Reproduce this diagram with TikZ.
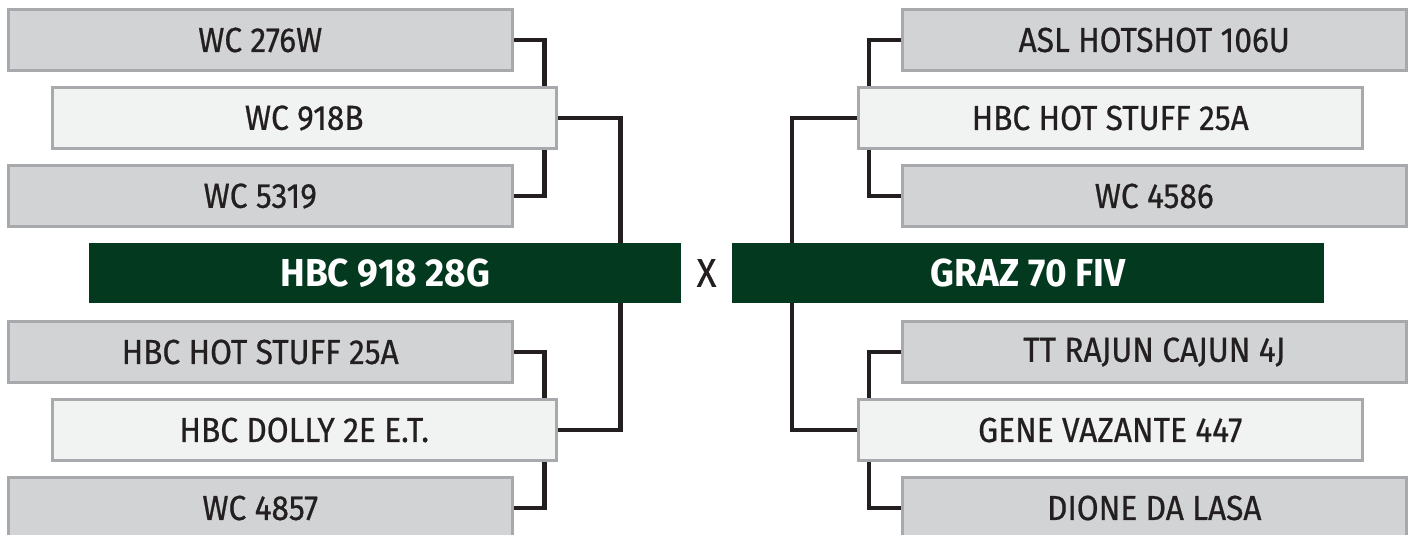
\documentclass[tikz,border=0pt]{standalone}
\usepackage{fontspec}
\setmainfont{Fira Sans}
\newfontfamily\namefont{Fira Sans}[FakeStretch=0.91,FakeBold=0.6]
\newfontfamily\headfont{Fira Sans}[FakeStretch=0.95]
\usetikzlibrary{backgrounds}
\definecolor{boxgray}{HTML}{D1D3D4}
\definecolor{boxlight}{HTML}{F1F2F2}
\definecolor{edgegray}{HTML}{A7A9AC}
\definecolor{headgreen}{HTML}{033A1F}
\definecolor{ink}{HTML}{231F20}
\tikzset{
  sire/.style={draw=edgegray, line width=2.5pt, fill=boxgray, text=ink,
    minimum width=504pt, minimum height=61pt, inner sep=0pt, anchor=west,
    font=\namefont\fontsize{34.8}{40}\selectfont},
  dam/.style={sire, fill=boxlight},
  champ/.style={fill=headgreen, text=white, minimum width=592pt,
    minimum height=60pt, inner sep=0pt, anchor=west,
    font=\headfont\bfseries\fontsize{39}{44}\selectfont},
  link/.style={draw=ink, line width=4.5pt}
}

\begin{document}
\begin{tikzpicture}[x=1pt,y=-1pt]
\useasboundingbox (0,0) rectangle (1410,535);

% left pedigree
\node[sire] (wc276w) at (7,40) {WC 276W};
\node[dam] (wc918b) at (51,118) {WC 918B};
\node[sire] (wc5319) at (7,196) {WC 5319};
\node[champ] (hbc918) at (89,273) {HBC 918 28G};
\node[sire] (hotstuffl) at (7,352) {HBC HOT STUFF 25A};
\node[dam] (dolly) at (51,430) {HBC DOLLY 2E E.T.};
\node[sire] (wc4857) at (7,508) {WC 4857};

\node[text=ink, font=\namefont\fontsize{40}{44}\selectfont] (cross) at (706.5,273) {X};

% right pedigree
\node[sire] (asl) at (901,40) {ASL HOTSHOT 106U};
\node[dam] (hotstuffr) at (857,118) {HBC HOT STUFF 25A};
\node[sire] (wc4586) at (901,196) {WC 4586};
\node[champ] (graz) at (732,273) {GRAZ 70 FIV};
\node[sire] (rajun) at (901,352) {TT RAJUN CAJUN 4J};
\node[dam] (gene) at (857,430) {GENE VAZANTE 447};
\node[sire] (dione) at (901,508) {DIONE DA LASA};

\begin{pgfonlayer}{background}
\draw[link] (wc276w.east) -- ++(31,0) |- (wc5319.east);
\draw[link] (wc918b.east) -- ++(63,0) |- (dolly.east);
\draw[link] (hotstuffl.east) -- ++(31,0) |- (wc4857.east);
\draw[link] (asl.west) -- ++(-32,0) |- (wc4586.west);
\draw[link] (hotstuffr.west) -- ++(-65,0) |- (gene.west);
\draw[link] (rajun.west) -- ++(-32,0) |- (dione.west);
\end{pgfonlayer}
\end{tikzpicture}
\end{document}
